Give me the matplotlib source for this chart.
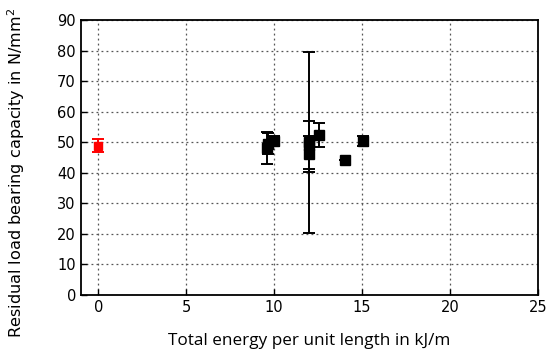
import numpy as np
import matplotlib.pyplot as plt

plt.rcParams['font.family'] = ['DejaVu Sans']

# reference point (red)
ref_x = [0.0]
ref_y = [48.8]
ref_err = [2.1]

# impact tests (black)
energy = [9.6, 9.65, 10.0, 12.0, 12.0, 12.0, 12.55, 14.0, 15.05]
capacity = [48.1, 49.5, 50.3, 50.0, 49.0, 46.0, 52.4, 44.3, 50.3]
cap_err = [5.3, 3.5, 1.7, 29.6, 7.8, 5.9, 4.0, 0.0, 1.6]

fig = plt.figure(figsize=(5.53, 3.51), dpi=100)
ax = fig.add_axes([0.146, 0.16, 0.827, 0.783])

ax.errorbar(energy, capacity, yerr=cap_err, fmt='s', color='black', ms=6.5,
            elinewidth=1.4, capsize=4, capthick=1.4, zorder=3)
ax.errorbar(ref_x, ref_y, yerr=ref_err, fmt='s', color='red', ms=6.0,
            elinewidth=1.4, capsize=4, capthick=1.4, zorder=3)

ax.set_xlim(-1, 25)
ax.set_ylim(0, 90)
ax.set_xticks(range(0, 26, 5))
ax.set_yticks(range(0, 91, 10))
ax.grid(True, linestyle=(0, (1.5, 2.5)), color='#555555', linewidth=0.9)
ax.tick_params(direction='in', length=4, width=1, labelsize=10.5, colors='black')
for s in ax.spines.values():
    s.set_linewidth(1.3)

ax.set_xlabel('Total energy per unit length in kJ/m', fontsize=12.3,
              family=['Open Sans', 'DejaVu Sans'], labelpad=13.5)
ax.set_ylabel('Residual load bearing capacity in N/mm$^2$', fontsize=11.6)
ax.yaxis.set_label_coords(-0.118, 0.445)

fig.savefig('out.png', dpi=100)
